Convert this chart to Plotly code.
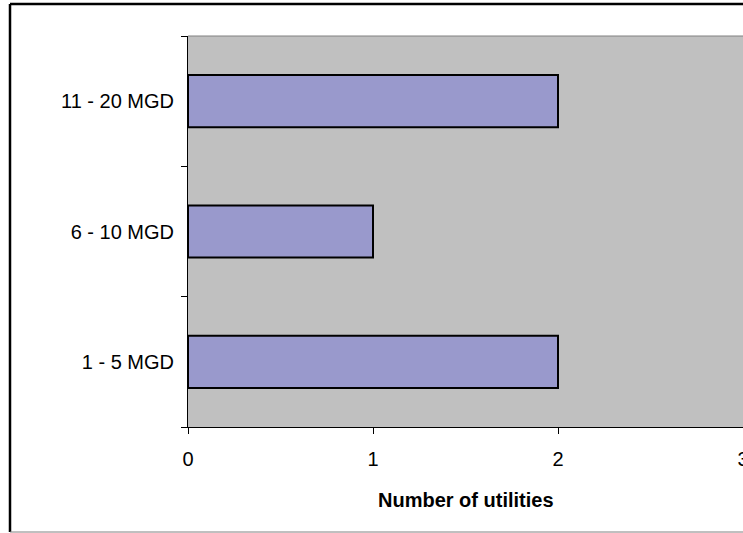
import plotly.graph_objects as go

categories = ["1 - 5 MGD", "6 - 10 MGD", "11 - 20 MGD"]
utilities = [2, 1, 2]
x_ticks = [0, 1, 2, 3]
x_title = "Number of utilities"

W, H = 743, 533
L, R, T, B = 188, 0, 36, 106
pw, ph = W - L - R, H - T - B

def px_x(p):
    return (p - L) / pw

def px_y(p):
    return (H - B - p) / ph

fig = go.Figure(go.Bar(
    y=categories, x=utilities, orientation="h",
    width=0.4,
    marker=dict(color="#9999CC", line=dict(color="#000000", width=2)),
))

font = dict(family="Liberation Sans, Arial, sans-serif", size=20, color="#000000")

fig.update_layout(
    width=W, height=H,
    margin=dict(l=L, r=R, t=T, b=B),
    paper_bgcolor="#FFFFFF",
    plot_bgcolor="#C0C0C0",
    showlegend=False,
    font=font,
    bargap=0.6,
    xaxis=dict(
        range=[0, 3], tickvals=x_ticks, ticktext=[str(v) for v in x_ticks],
        showgrid=False, zeroline=False, automargin=False,
        showline=True, linecolor="#000000", linewidth=1,
        ticks="outside", ticklen=6, tickcolor="#000000", tickwidth=1,
        ticklabelstandoff=8, tickfont=font, ticklabeloverflow="allow",
    ),
    yaxis=dict(
        type="category", categoryorder="array", categoryarray=categories,
        range=[-0.5, 2.5], automargin=False,
        showgrid=False, zeroline=False,
        showline=True, linecolor="#000000", linewidth=1,
        ticks="outside", ticklen=6, tickcolor="#000000", tickwidth=1,
        tickson="boundaries",
        ticklabelstandoff=9, tickfont=font,
    ),
    annotations=[dict(
        text="<b>" + x_title + "</b>", xref="paper", yref="paper",
        x=0.5, y=px_y(500), xanchor="center", yanchor="middle",
        showarrow=False, font=font,
    )],
    shapes=[
        dict(type="line", xref="paper", yref="paper", x0=0, x1=1, y0=1, y1=1,
             line=dict(color="#808080", width=1)),
        dict(type="line", xref="paper", yref="paper", x0=px_x(10), x1=px_x(760),
             y0=px_y(4), y1=px_y(4), line=dict(color="#000000", width=2.5)),
        dict(type="line", xref="paper", yref="paper", x0=px_x(10), x1=px_x(10),
             y0=px_y(4), y1=px_y(532), line=dict(color="#000000", width=2.5)),
        dict(type="line", xref="paper", yref="paper", x0=px_x(10), x1=px_x(760),
             y0=px_y(532), y1=px_y(532), line=dict(color="#808080", width=1)),
    ],
)

fig.write_html(
    "out.html",
    config={"displayModeBar": False},
    post_script="document.body.style.margin='0';document.body.style.overflow='hidden';",
)
